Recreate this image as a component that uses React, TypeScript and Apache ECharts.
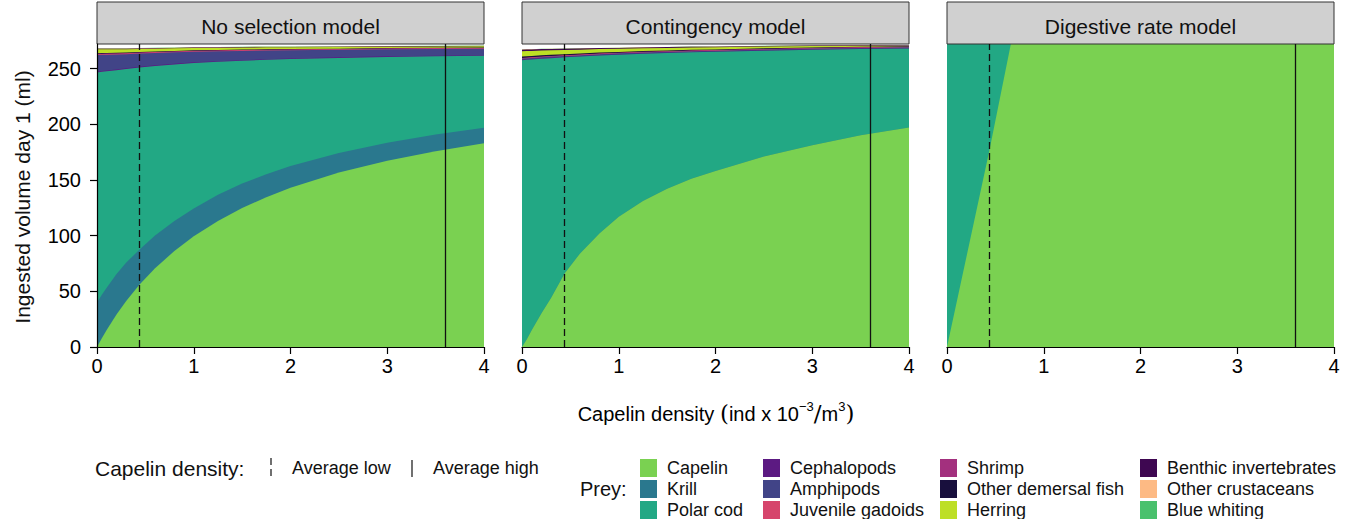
import React, { useEffect, useRef } from "react";
import * as echarts from "echarts";

// ---------- DATA ----------
const panelTitles = ["No selection model", "Contingency model", "Digestive rate model"];
const xTicks = [0, 1, 2, 3, 4];
const yTicks = [0, 50, 100, 150, 200, 250];
const yMax = 272;
const densityLow = 0.437;
const densityHigh = 3.6;

const preyNames = [
  "Capelin", "Krill", "Polar cod", "Cephalopods", "Amphipods", "Juvenile gadoids",
  "Shrimp", "Other demersal fish", "Herring", "Benthic invertebrates", "Other crustaceans", "Blue whiting",
];
const preyColors = [
  "#7AD151", "#2A788E", "#22A884", "#5C1A82", "#414487", "#D6456C",
  "#A3307E", "#180F3D", "#BDDF26", "#3E0751", "#FDBA84", "#4AC16D",
];

// Panel 1: No selection model
const x1 = [0, 0.05, 0.1, 0.2, 0.3, 0.44, 0.6, 0.8, 1, 1.25, 1.5, 1.75, 2, 2.5, 3, 3.5, 4];
const ns_capelin = [0, 7.9, 15.3, 28.9, 41.1, 56.0, 70.7, 86.2, 99.4, 113.1, 124.7, 134.5, 142.9, 156.6, 167.3, 175.8, 182.9];
const ns_krill = [40, 39, 38, 36.5, 34.5, 31.5, 29.5, 27, 25, 23.5, 22, 20.5, 19.5, 17.5, 16, 15, 14];
const ns_polarcod = [206.5, 200.1, 194.2, 183.1, 173.9, 163.5, 152.1, 140.5, 130.6, 119.4, 110.3, 102.8, 96.1, 85.4, 77.1, 70.2, 64.6];
const ns_cephalopods = [0.7, 0.7, 0.7, 0.7, 0.7, 0.6, 0.6, 0.6, 0.6, 0.6, 0.5, 0.5, 0.5, 0.5, 0.5, 0.5, 0.5];
const ns_amphipods = [15, 14.6, 14.2, 13.4, 12.7, 11.8, 11, 10.2, 9.5, 8.8, 8.3, 7.8, 7.4, 6.8, 6.4, 6.1, 5.8];
const ns_juvgadoids = [0.7, 0.7, 0.7, 0.6, 0.6, 0.6, 0.6, 0.5, 0.5, 0.5, 0.5, 0.5, 0.4, 0.4, 0.4, 0.4, 0.4];
const ns_shrimp = [0.3, 0.3, 0.3, 0.3, 0.3, 0.3, 0.3, 0.3, 0.3, 0.3, 0.3, 0.3, 0.3, 0.3, 0.3, 0.3, 0.3];
const ns_demersal = [0.6, 0.6, 0.6, 0.6, 0.5, 0.5, 0.5, 0.5, 0.4, 0.4, 0.4, 0.4, 0.4, 0.3, 0.3, 0.3, 0.3];
const ns_herring = [3.5, 3.4, 3.3, 3.1, 2.9, 2.7, 2.5, 2.3, 2.1, 1.9, 1.8, 1.7, 1.6, 1.4, 1.3, 1.2, 1.2];
const ns_benthic = [0.5, 0.5, 0.5, 0.5, 0.5, 0.4, 0.4, 0.4, 0.4, 0.4, 0.4, 0.3, 0.3, 0.3, 0.3, 0.3, 0.3];
const ns_othercrust = [0.2, 0.2, 0.2, 0.2, 0.2, 0.2, 0.2, 0.2, 0.2, 0.2, 0.2, 0.2, 0.2, 0.2, 0.2, 0.2, 0.2];
const ns_bluewhiting = [0.2, 0.2, 0.2, 0.2, 0.2, 0.2, 0.2, 0.2, 0.2, 0.2, 0.2, 0.2, 0.2, 0.2, 0.2, 0.2, 0.2];

// Panel 2: Contingency model
const x2 = [0, 0.05, 0.1, 0.2, 0.3, 0.44, 0.6, 0.8, 1, 1.25, 1.5, 1.75, 2, 2.5, 3, 3.5, 4];
const cg_capelin = [0, 7, 15, 30, 44, 66, 84, 102, 117, 131, 142, 151, 158, 171, 181, 190, 197];
const cg_krill = [0, 0, 0, 0, 0, 0, 0, 0, 0, 0, 0, 0, 0, 0, 0, 0, 0];
const cg_polarcod = [257.5, 250.8, 243.1, 228.7, 215.3, 194, 176.8, 159.7, 145.4, 132.2, 121.9, 113.5, 107, 95, 85.9, 77.5, 71];
const cg_cephalopods = [0.6, 0.6, 0.6, 0.6, 0.6, 0.5, 0.5, 0.5, 0.5, 0.5, 0.4, 0.4, 0.4, 0.4, 0.4, 0.4, 0.4];
const cg_amphipods = [0.8, 0.8, 0.8, 0.8, 0.8, 0.8, 0.7, 0.7, 0.7, 0.7, 0.7, 0.7, 0.6, 0.6, 0.6, 0.6, 0.6];
const cg_juvgadoids = [0.3, 0.3, 0.3, 0.3, 0.3, 0.3, 0.3, 0.3, 0.3, 0.3, 0.3, 0.3, 0.3, 0.3, 0.3, 0.3, 0.3];
const cg_shrimp = [0.3, 0.3, 0.3, 0.3, 0.3, 0.3, 0.3, 0.3, 0.3, 0.3, 0.3, 0.3, 0.3, 0.3, 0.3, 0.3, 0.3];
const cg_demersal = [1.2, 1.2, 1.1, 1.1, 1.0, 0.9, 0.9, 0.8, 0.7, 0.7, 0.6, 0.6, 0.5, 0.5, 0.4, 0.4, 0.3];
const cg_herring = [4.8, 4.7, 4.6, 4.4, 4.1, 3.8, 3.4, 3.1, 2.8, 2.5, 2.3, 2.1, 1.9, 1.6, 1.3, 1.0, 0.4];
const cg_benthic = [1.4, 1.4, 1.3, 1.3, 1.2, 1.1, 1.0, 0.9, 0.8, 0.7, 0.7, 0.6, 0.6, 0.5, 0.4, 0.4, 0.3];
const cg_othercrust = [0.1, 0.1, 0.1, 0.1, 0.1, 0.1, 0.1, 0.1, 0.1, 0.1, 0.1, 0.1, 0.1, 0.1, 0.1, 0.1, 0.1];
const cg_bluewhiting = [0.1, 0.1, 0.1, 0.1, 0.1, 0.1, 0.1, 0.1, 0.1, 0.1, 0.1, 0.1, 0.1, 0.1, 0.1, 0.1, 0.1];

// Panel 3: Digestive rate model
const x3 = [0, 0.437, 0.66, 1, 2, 3, 4];
const dr_capelin = [0, 176, 272, 272, 272, 272, 272];
const dr_polarcod = [272, 96, 0, 0, 0, 0, 0];

// ---------- LAYOUT ----------
const gridLefts = [97, 522, 947];
const gridWidth = 387;
const gridTop = 44;
const gridHeight = 303;
const FONT = "Liberation Sans, Arial, sans-serif";

export default function App() {
  const ref = useRef<HTMLDivElement>(null);

  useEffect(() => {
    document.body.style.margin = "0";
    if (!ref.current) return;
    const chart = echarts.init(ref.current, undefined, { renderer: "svg" });

    const panels = [
      {
        x: x1,
        layers: [ns_capelin, ns_krill, ns_polarcod, ns_cephalopods, ns_amphipods, ns_juvgadoids,
          ns_shrimp, ns_demersal, ns_herring, ns_benthic, ns_othercrust, ns_bluewhiting],
      },
      {
        x: x2,
        layers: [cg_capelin, cg_krill, cg_polarcod, cg_cephalopods, cg_amphipods, cg_juvgadoids,
          cg_shrimp, cg_demersal, cg_herring, cg_benthic, cg_othercrust, cg_bluewhiting],
      },
      {
        x: x3,
        layers: [dr_capelin, null, dr_polarcod],
      },
    ];

    const grids: any[] = [];
    const xAxes: any[] = [];
    const yAxes: any[] = [];
    const series: any[] = [];
    const graphics: any[] = [];

    panels.forEach((p, gi) => {
      grids.push({ left: gridLefts[gi], top: gridTop, width: gridWidth, height: gridHeight, containLabel: false });
      xAxes.push({
        type: "value", gridIndex: gi, min: 0, max: 4, interval: 1,
        axisLine: { show: true, onZero: false, lineStyle: { color: "#000", width: 1.2 } },
        axisTick: { show: true, length: 7, lineStyle: { color: "#000", width: 1.2 } },
        axisLabel: { show: true, color: "#000", fontSize: 20, fontFamily: FONT, margin: 9,
          customValues: xTicks },
        splitLine: { show: false },
        z: 20,
      });
      yAxes.push({
        type: "value", gridIndex: gi, min: 0, max: yMax,
        axisLine: { show: gi === 0, onZero: false, lineStyle: { color: "#000", width: 1.2 } },
        axisTick: { show: gi === 0, length: 7, customValues: yTicks, lineStyle: { color: "#000", width: 1.2 } },
        axisLabel: { show: gi === 0, color: "#000", fontSize: 20, fontFamily: FONT, margin: 16,
          customValues: yTicks },
        splitLine: { show: false },
        z: 20,
      });

      // cumulative stack tops (bottom-up), drawn top layer first so lower layers cover it
      const valid = p.layers
        .map((d, li) => ({ d, li }))
        .filter((o) => o.d !== null) as { d: number[]; li: number }[];
      const running = p.x.map(() => 0);
      const cum = valid.map((o) => {
        const top = o.d.map((v, j) => (running[j] += v));
        return { li: o.li, top };
      });
      const ordered = cum.slice().reverse();
      ordered.forEach((o, k) => {
        const s: any = {
          type: "line",
          name: preyNames[o.li],
          xAxisIndex: gi,
          yAxisIndex: gi,
          smooth: false,
          symbol: "none",
          showSymbol: false,
          lineStyle: { width: 0, color: preyColors[o.li] },
          itemStyle: { color: preyColors[o.li] },
          areaStyle: { color: preyColors[o.li], opacity: 1, origin: "start" },
          data: p.x.map((xv, j) => [xv, o.top[j]]),
          z: 2 + k * 0.01,
        };
        if (k === ordered.length - 1) {
          s.markLine = {
            silent: true,
            symbol: ["none", "none"],
            label: { show: false },
            z: 10,
            data: [
              { xAxis: densityLow, lineStyle: { color: "#111", width: 1.3, type: [7, 4] } },
              { xAxis: densityHigh, lineStyle: { color: "#111", width: 1.3, type: "solid" } },
            ],
          };
        }
        series.push(s);
      });

      // strip header
      graphics.push({
        type: "rect",
        shape: { x: gridLefts[gi], y: 2, width: gridWidth, height: gridTop - 2 },
        style: { fill: "#D0D0D0", stroke: "#333", lineWidth: 1 },
        z: 5,
      });
      graphics.push({
        type: "text",
        x: gridLefts[gi] + gridWidth / 2,
        y: 26,
        style: { text: panelTitles[gi], fill: "#111", font: `21px ${FONT}`, align: "center", verticalAlign: "middle" },
        z: 6,
      });
    });

    // Axis titles
    graphics.push({
      type: "text",
      x: 22,
      y: 197,
      rotation: Math.PI / 2,
      style: { text: "Ingested volume day 1 (ml)", fill: "#111", font: `21px ${FONT}`, align: "center", verticalAlign: "middle" },
    });
    graphics.push({
      type: "text",
      x: 716,
      y: 412,
      style: {
        text: "{a|Capelin density }{p|(}{a|ind x 10}{s|−3}{p|/}{a|m}{s|3}{p|)}",
        align: "center",
        verticalAlign: "middle",
        rich: {
          a: { fontSize: 20, fontFamily: FONT, color: "#111", verticalAlign: "bottom", lineHeight: 24 },
          p: { fontSize: 23, fontFamily: "DejaVu Serif, serif", color: "#111", verticalAlign: "bottom", lineHeight: 24 },
          s: { fontSize: 13, fontFamily: FONT, color: "#111", verticalAlign: "top", lineHeight: 24 },
        },
      },
    });

    // Capelin density legend
    graphics.push({
      type: "text", x: 95, y: 468,
      style: { text: "Capelin density:", fill: "#111", font: `21px ${FONT}`, align: "left", verticalAlign: "middle" },
    });
    graphics.push({
      type: "line", shape: { x1: 271, y1: 458, x2: 271, y2: 478 },
      style: { stroke: "#111", lineWidth: 1.2, lineDash: [7, 4] },
    });
    graphics.push({
      type: "text", x: 292, y: 468,
      style: { text: "Average low", fill: "#111", font: `18px ${FONT}`, align: "left", verticalAlign: "middle" },
    });
    graphics.push({
      type: "line", shape: { x1: 412, y1: 460, x2: 412, y2: 477 },
      style: { stroke: "#111", lineWidth: 1.2 },
    });
    graphics.push({
      type: "text", x: 433, y: 468,
      style: { text: "Average high", fill: "#111", font: `18px ${FONT}`, align: "left", verticalAlign: "middle" },
    });

    // Prey legend
    graphics.push({
      type: "text", x: 580, y: 489,
      style: { text: "Prey:", fill: "#111", font: `20px ${FONT}`, align: "left", verticalAlign: "middle" },
    });
    const colKeyX = [640, 763, 940, 1140];
    const rowY = [468, 489, 510];
    preyNames.forEach((name, i) => {
      const col = Math.floor(i / 3);
      const row = i % 3;
      graphics.push({
        type: "rect",
        shape: { x: colKeyX[col], y: rowY[row] - 9, width: 17, height: 18 },
        style: { fill: preyColors[i] },
      });
      graphics.push({
        type: "text", x: colKeyX[col] + 27, y: rowY[row],
        style: { text: name, fill: "#111", font: `18px ${FONT}`, align: "left", verticalAlign: "middle" },
      });
    });

    chart.setOption({
      animation: false,
      backgroundColor: "#fff",
      grid: grids,
      xAxis: xAxes,
      yAxis: yAxes,
      series,
      graphic: graphics,
    });

    return () => chart.dispose();
  }, []);

  return <div ref={ref} style={{ width: 1351, height: 519 }} />;
}
